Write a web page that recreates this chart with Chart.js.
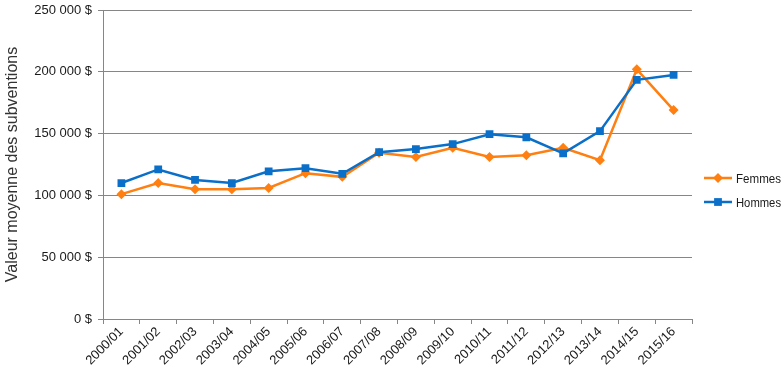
<!DOCTYPE html>
<html>
<head>
<meta charset="utf-8">
<script src="https://cdn.jsdelivr.net/npm/chart.js@4/dist/chart.umd.min.js"></script>
<style>
  html, body { margin: 0; padding: 0; background: #fff; }
  #wrap { width: 783px; height: 384px; }
</style>
</head>
<body>
<div id="wrap"><canvas id="chart" width="783" height="384"></canvas></div>
<script>
const years = ['2000/01', '2001/02', '2002/03', '2003/04', '2004/05', '2005/06', '2006/07', '2007/08',
  '2008/09', '2009/10', '2010/11', '2011/12', '2012/13', '2013/14', '2014/15', '2015/16'];
const femmes = [101000, 110000, 105000, 105000, 106000, 118000, 115000, 134500,
  131000, 138500, 131000, 132500, 138500, 128500, 202000, 169000];
const hommes = [110000, 121000, 112500, 110000, 119500, 122000, 117500, 135000,
  137500, 141500, 149500, 147000, 134000, 152000, 193500, 197500];

const orange = '#FF7F10';
const blue = '#0A6FC8';
const grey = '#868686';
const textColor = '#1a1a1a';

function money(v) {
  return String(v).replace(/\B(?=(\d{3})+(?!\d))/g, ' ') + ' $';
}

// legend drawn by hand: line with marker, like the original
const sideLegend = {
  id: 'sideLegend',
  afterDraw(chart) {
    const ctx = chart.ctx;
    const items = [
      { label: 'Femmes', color: orange, style: 'rectRot', r: 5 },
      { label: 'Hommes', color: blue, style: 'rect', r: 5.5 }
    ];
    items.forEach((it, i) => {
      const y = 178 + i * 24;
      ctx.save();
      ctx.strokeStyle = it.color;
      ctx.lineWidth = 2.5;
      ctx.beginPath();
      ctx.moveTo(704, y);
      ctx.lineTo(732, y);
      ctx.stroke();
      ctx.fillStyle = it.color;
      Chart.helpers.drawPoint(ctx, { pointStyle: it.style, radius: it.r, borderWidth: 0 }, 718, y);
      ctx.fillStyle = textColor;
      ctx.font = '13px "Liberation Sans", sans-serif';
      ctx.textBaseline = 'middle';
      ctx.fillText(it.label, 736, y + 1, 45);
      ctx.restore();
    });
  }
};

new Chart(document.getElementById('chart'), {
  type: 'line',
  data: {
    labels: years,
    datasets: [
      {
        label: 'Femmes',
        data: femmes,
        borderColor: orange,
        backgroundColor: orange,
        borderWidth: 2.5,
        pointStyle: 'rectRot',
        pointRadius: 5,
        pointBorderWidth: 0,
        tension: 0,
        order: 2
      },
      {
        label: 'Hommes',
        data: hommes,
        borderColor: blue,
        backgroundColor: blue,
        borderWidth: 2.5,
        pointStyle: 'rect',
        pointRadius: 5.5,
        pointBorderWidth: 0,
        tension: 0,
        order: 1
      }
    ]
  },
  options: {
    responsive: false,
    animation: false,
    layout: { padding: { top: 0, right: 91, left: 0, bottom: 0 } },
    plugins: {
      legend: { display: false },
      tooltip: { enabled: false }
    },
    scales: {
      x: {
        offset: true,
        grid: { offset: true, drawOnChartArea: false, drawTicks: true, tickLength: 5, color: grey },
        border: { color: grey, width: 1 },
        ticks: {
          color: textColor,
          font: { family: '"Liberation Sans", sans-serif', size: 13 },
          minRotation: 45,
          maxRotation: 45,
          autoSkip: false,
          padding: 0
        },
        afterFit: scale => { scale.height = 65; }
      },
      y: {
        min: 0,
        max: 250000,
        grid: { color: grey, tickLength: 5 },
        border: { color: grey, width: 1 },
        ticks: {
          stepSize: 50000,
          color: textColor,
          padding: 6,
          font: { family: '"Liberation Sans", sans-serif', size: 13 },
          callback: v => money(v)
        },
        title: {
          display: true,
          text: 'Valeur moyenne des subventions',
          color: '#333333',
          font: { family: '"Liberation Sans", sans-serif', size: 16 },
          padding: { top: 3, bottom: 0 }
        },
        afterFit: scale => {
          scale.width = 103;
          scale.paddingTop = 10;
        }
      }
    }
  },
  plugins: [sideLegend]
});
</script>
</body>
</html>
